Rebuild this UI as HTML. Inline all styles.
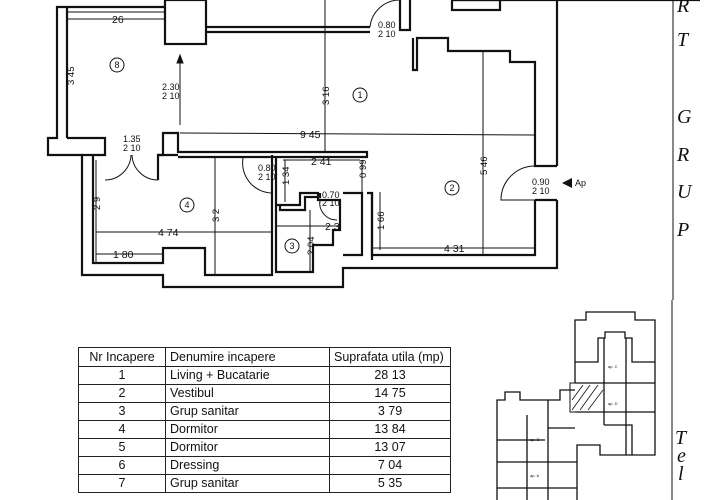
<!DOCTYPE html>
<html><head><meta charset="utf-8"><style>
body{margin:0;background:#fff;width:720px;height:500px;overflow:hidden;font-family:"Liberation Sans",sans-serif}
svg{position:absolute;left:0;top:0}
table{position:absolute;left:78px;top:347px;border-collapse:collapse;font-size:12.5px;color:#111}
td{border:1.5px solid #222;height:17px;padding:0 4px;line-height:17px}
td.c{text-align:center}
</style></head><body>
<svg width="720" height="500" viewBox="0 0 720 500" fill="none" stroke="#111" font-family="Liberation Sans" >
<g stroke-width="2.2">
<polyline points="165,7 57,7 57,138 48,138 48,155 82,155 82,275 163,275 163,287 343,287 343,268 557,268 557,200"/>
<polyline points="557,166 557,0"/>
<polyline points="67,7 67,138"/>
<line x1="67" y1="12" x2="165" y2="12" stroke-width="1"/>
<rect x="165" y="0" width="41" height="44"/>
<line x1="206" y1="27" x2="370" y2="27"/><line x1="206" y1="32" x2="370" y2="32"/>
<polyline points="400,0 400,30 410,30 410,0"/>
<polyline points="413,38 413,70 417,70 417,38 448,38 448,51 510,51 510,62 535,62 535,166 557,166"/>
<polyline points="535,200 557,200"/>
<polyline points="535,200 535,255 372,255 372,192"/>
<rect x="452" y="0" width="48" height="10"/>
<line x1="452" y1="0" x2="700" y2="0"/>
<polyline points="67,138 105,138 105,155 82,155"/>
<polyline points="158,180 158,155 163,155 163,133 178,133 178,152 367,152 367,157 178,157"/>
<polyline points="158,155 178,155"/>
<polyline points="93,155 93,263 163,263 163,248 205,248 205,275 272,275 272,155"/>
<polyline points="276,157 276,205 300,205 300,193 318,193 318,200 340,200 340,230 333,230 333,245 313,245 313,272 276,272 276,205"/>
<polyline points="280,205 280,210 305,210 305,197 320,197 320,193"/>
<polyline points="343,193 362,193 362,255 343,255" />
<polyline points="367,193 372,193 372,260"/>
<line x1="96" y1="160" x2="96" y2="263" stroke-width="1"/>
</g>
<g stroke-width="1">
<path d="M105,180 A26,26 0 0 0 131,155 M158,180 A26,26 0 0 1 132,155"/>
<path d="M243,158 A30,30 0 0 0 272,193"/>
<path d="M320,200 A17,17 0 0 0 337,220"/>
<path d="M370,27 A30,30 0 0 1 400,0"/>
<path d="M535,166 A34,34 0 0 0 501,200 L535,200"/>
<line x1="67" y1="19" x2="165" y2="19"/>
<line x1="325" y1="0" x2="325" y2="152"/>
<line x1="180" y1="133" x2="535" y2="135"/>
<line x1="180" y1="58" x2="180" y2="125"/><polygon points="180,55 177,63 183,63" fill="#111"/>
<line x1="283" y1="160" x2="360" y2="160"/>
<line x1="285" y1="160" x2="285" y2="202"/>
<line x1="362" y1="160" x2="362" y2="193"/>
<line x1="96" y1="232" x2="272" y2="232"/>
<line x1="96" y1="254" x2="163" y2="254"/>
<line x1="215" y1="157" x2="215" y2="275"/>
<line x1="276" y1="226" x2="340" y2="226"/>
<line x1="310" y1="210" x2="310" y2="272"/>
<line x1="380" y1="192" x2="380" y2="250"/>
<line x1="372" y1="248" x2="535" y2="248"/>
<line x1="483" y1="52" x2="483" y2="255"/>
<line x1="673" y1="0" x2="673" y2="300"/>
<line x1="672" y1="300" x2="672" y2="500"/>
<polygon points="562,183 572,178 572,188" fill="#111" stroke="none"/>
<circle cx="117" cy="65" r="7"/><circle cx="360" cy="95" r="7"/><circle cx="452" cy="188" r="7"/><circle cx="187" cy="205" r="7"/><circle cx="292" cy="246" r="7"/>
</g>
<g fill="#111" stroke="none" font-size="10.5">
<g font-size="9" text-anchor="middle"><text x="117" y="68">8</text><text x="360" y="98">1</text><text x="452" y="191">2</text><text x="187" y="208">4</text><text x="292" y="249">3</text></g>
<text x="112" y="23">26</text>
<text x="300" y="138">9 45</text>
<text x="311" y="165">2 41</text>
<text x="158" y="236">4 74</text>
<text x="113" y="258">1 80</text>
<text x="325" y="230">2 3</text>
<text x="444" y="252">4 31</text>
<text x="123" y="142" font-size="9">1.35</text><text x="123" y="151" font-size="9">2 10</text>
<text x="162" y="90" font-size="9">2.30</text><text x="162" y="99" font-size="9">2 10</text>
<text x="258" y="171" font-size="9">0.80</text><text x="258" y="180" font-size="9">2 10</text>
<text x="322" y="198" font-size="9">0.70</text><text x="322" y="206" font-size="9">2 10</text>
<text x="378" y="28" font-size="9">0.80</text><text x="378" y="37" font-size="9">2 10</text>
<text x="532" y="185" font-size="9">0.90</text><text x="532" y="194" font-size="9">2 10</text>
<text x="575" y="186" font-size="9">Ap</text>
<g font-family="Liberation Serif" font-style="italic" font-size="20">
<text x="677" y="12">R</text><text x="677" y="46">T</text><text x="677" y="123">G</text><text x="677" y="161">R</text><text x="677" y="198">U</text><text x="677" y="236">P</text>
<text x="675" y="444">T</text><text x="677" y="462">e</text><text x="678" y="480">l</text>
</g>
</g>
<g font-size="9.5" fill="#111" stroke="none">
<text transform="translate(74,85) rotate(-90)">3 45</text>
<text transform="translate(329,105) rotate(-90)">3 16</text>
<text transform="translate(487,175) rotate(-90)">5 46</text>
<text transform="translate(219,222) rotate(-90)">3 2</text>
<text transform="translate(100,210) rotate(-90)">2 9</text>
<text transform="translate(289,185) rotate(-90)">1 34</text>
<text transform="translate(366,178) rotate(-90)">0 99</text>
<text transform="translate(384,230) rotate(-90)">1 66</text>
<text transform="translate(314,255) rotate(-90)">2 04</text>
</g>
<g stroke-width="1.3">
<polyline points="575,383 575,320 586,320 586,312 635,312 635,320 655,320 655,455 600,455 600,445 577,445 577,500"/>
<polyline points="575,362 598,362 598,338 605,338 605,332 625,332 625,338 632,338 632,362 655,362"/>
<line x1="575" y1="383" x2="655" y2="383"/><line x1="575" y1="412" x2="655" y2="412"/>
<line x1="604" y1="338" x2="604" y2="425"/><line x1="626" y1="338" x2="626" y2="455"/>
<polyline points="604,425 632,425 632,455"/>
<polyline points="575,390 560,390 560,400 520,400 520,392 505,392 505,400 497,400 497,500"/>
<line x1="497" y1="440" x2="545" y2="440"/><line x1="497" y1="462" x2="577" y2="462"/><line x1="497" y1="488" x2="577" y2="488"/>
<line x1="527" y1="415" x2="527" y2="500"/><line x1="548" y1="400" x2="548" y2="500"/>
<line x1="548" y1="428" x2="575" y2="428"/>
</g>
<g stroke-width="0.8"><line x1="572" y1="410" x2="590" y2="385"/><line x1="580" y1="410" x2="598" y2="385"/><line x1="588" y1="410" x2="603" y2="390"/><line x1="572" y1="400" x2="583" y2="385"/></g>
<rect x="570" y="383" width="34" height="29" stroke-width="1"/>
<g font-size="4" fill="#111" stroke="none"><text x="608" y="368">ap. C</text><text x="608" y="405">ap. D</text><text x="530" y="441">ap. B</text><text x="530" y="477">ap. A</text></g>
</svg>
<table>
<tr><td class="c" style="width:78px;height:18px">Nr Incapere</td><td style="width:155px">Denumire incapere</td><td style="width:112px">Suprafata utila (mp)</td></tr>
<tr><td class="c">1</td><td>Living + Bucatarie</td><td class="c">28 13</td></tr>
<tr><td class="c">2</td><td>Vestibul</td><td class="c">14 75</td></tr>
<tr><td class="c">3</td><td>Grup sanitar</td><td class="c">3 79</td></tr>
<tr><td class="c">4</td><td>Dormitor</td><td class="c">13 84</td></tr>
<tr><td class="c">5</td><td>Dormitor</td><td class="c">13 07</td></tr>
<tr><td class="c">6</td><td>Dressing</td><td class="c">7 04</td></tr>
<tr><td class="c">7</td><td>Grup sanitar</td><td class="c">5 35</td></tr>
</table>
</body></html>
